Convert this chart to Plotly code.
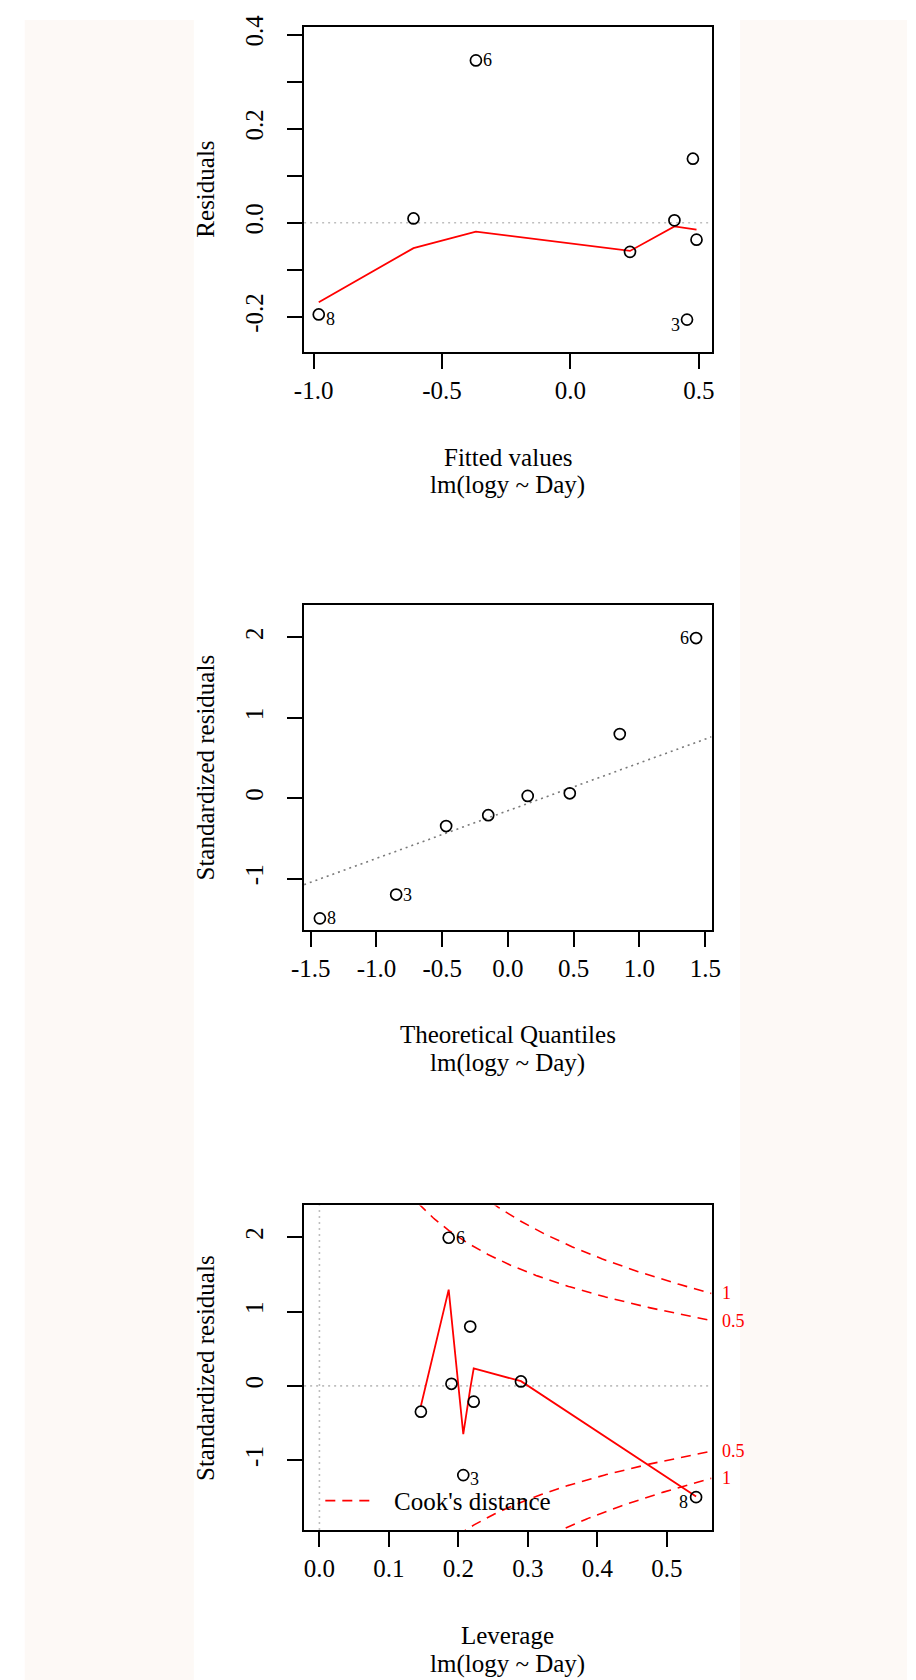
import numpy as np
import plotly.graph_objects as go

# ---------------- data ----------------
obs_id = [1, 2, 3, 4, 5, 6, 7, 8]
fitted = [0.491, 0.477, 0.454, 0.405, 0.232, -0.368, -0.611, -0.980]
residuals = [-0.036, 0.136, -0.206, 0.005, -0.062, 0.345, 0.009, -0.195]
std_resid = [-0.212, 0.798, -1.200, 0.028, -0.347, 1.992, 0.060, -1.496]
leverage = [0.222, 0.217, 0.207, 0.190, 0.146, 0.186, 0.290, 0.542]
theo_quant = [-0.15, 0.85, -0.85, 0.15, -0.47, 1.43, 0.47, -1.43]

# red smoother in Residuals vs Fitted
smooth1_x = [-0.980, -0.611, -0.368, 0.232, 0.405, 0.454, 0.477, 0.491]
smooth1_y = [-0.169, -0.054, -0.019, -0.060, -0.008, -0.012, -0.0137, -0.0148]

# red smoother in Residuals vs Leverage
smooth3_x = [0.146, 0.186, 0.190, 0.207, 0.217, 0.222, 0.290, 0.542]
smooth3_y = [-0.271, 1.295, 0.925, -0.649, -0.038, 0.236, 0.063, -1.486]

# Q-Q reference line
qq_intercept = -0.156
qq_slope = 0.594

# Cook's distance contours
cook_levels = [0.5, 1.0]
n_coef = 2

labelled = [3, 6, 8]

# tick labels
p1_xticks = [-1.0, -0.5, 0.0, 0.5]
p1_xtext = ["-1.0", "-0.5", "0.0", "0.5"]
p1_yticks = [-0.2, -0.1, 0.0, 0.1, 0.2, 0.3, 0.4]
p1_ytext = ["-0.2", "", "0.0", "", "0.2", "", "0.4"]
p2_xticks = [-1.5, -1.0, -0.5, 0.0, 0.5, 1.0, 1.5]
p2_xtext = ["-1.5", "-1.0", "-0.5", "0.0", "0.5", "1.0", "1.5"]
p2_yticks = [-1, 0, 1, 2]
p2_ytext = ["-1", "0", "1", "2"]
p3_xticks = [0.0, 0.1, 0.2, 0.3, 0.4, 0.5]
p3_xtext = ["0.0", "0.1", "0.2", "0.3", "0.4", "0.5"]
p3_yticks = [-1, 0, 1, 2]
p3_ytext = ["-1", "0", "1", "2"]

# ---------------- layout helpers ----------------
W, H = 916, 1680
FONT = "Liberation Serif"
FS = 25
FS_SMALL = 18


def px(x):
    return x / W


def py(y):
    return 1 - y / H


frames = {
    1: dict(x0=298.3, x1=715.7, y0=15.0, y1=342.3, xr=[-1.0369, 0.5494], yr=[-0.2745, 0.4162]),
    2: dict(x0=298.3, x1=715.7, y0=597.0, y1=924.3, xr=[-1.5497, 1.5475], yr=[-1.637, 2.407]),
    3: dict(x0=298.3, x1=715.7, y0=1202.0, y1=1529.0, xr=[-0.0220, 0.5642], yr=[-1.939, 2.427]),
}

fig = go.Figure()

pt_marker = dict(symbol="circle-open", size=11, color="black", line=dict(width=1.7, color="black"))
red_line = dict(color="#FF0000", width=1.8)

# Plot 1: Residuals vs Fitted
fig.add_trace(go.Scatter(x=smooth1_x, y=smooth1_y, mode="lines", line=red_line,
                         xaxis="x", yaxis="y", showlegend=False, hoverinfo="skip"))
fig.add_trace(go.Scatter(x=fitted, y=residuals, mode="markers", marker=pt_marker,
                         xaxis="x", yaxis="y", showlegend=False))

# Plot 2: Normal Q-Q
qx = np.array(frames[2]["xr"])
fig.add_trace(go.Scatter(x=qx, y=qq_intercept + qq_slope * qx, mode="lines",
                         line=dict(color="#7a7a7a", width=1.6, dash="2px,4px"),
                         xaxis="x2", yaxis="y2", showlegend=False, hoverinfo="skip"))
fig.add_trace(go.Scatter(x=theo_quant, y=std_resid, mode="markers", marker=pt_marker,
                         xaxis="x2", yaxis="y2", showlegend=False))

# Plot 3: Residuals vs Leverage
hh = np.linspace(0.005, frames[3]["xr"][1], 300)
for lev in cook_levels:
    yy = np.sqrt(lev * n_coef * (1 - hh) / hh)
    for sgn in (1, -1):
        fig.add_trace(go.Scatter(x=hh, y=sgn * yy, mode="lines",
                                 line=dict(color="#FF0000", width=1.6, dash="10px,7px"),
                                 xaxis="x3", yaxis="y3", showlegend=False, hoverinfo="skip"))
fig.add_trace(go.Scatter(x=smooth3_x, y=smooth3_y, mode="lines", line=red_line,
                         xaxis="x3", yaxis="y3", showlegend=False, hoverinfo="skip"))
fig.add_trace(go.Scatter(x=leverage, y=std_resid, mode="markers", marker=pt_marker,
                         xaxis="x3", yaxis="y3", showlegend=False))


def axis_common(f, ticks, text, is_x):
    ax = dict(
        domain=[px(f["x0"]), px(f["x1"])] if is_x else [py(f["y1"]), py(f["y0"])],
        range=f["xr"] if is_x else f["yr"],
        tickmode="array", tickvals=ticks, ticktext=text,
        ticks="outside", ticklen=15, tickwidth=2, tickcolor="black",
        showline=True, linecolor="black", linewidth=2, mirror=True,
        showgrid=False, zeroline=False,
        tickfont=dict(family=FONT, size=FS, color="black"),
        fixedrange=True,
    )
    if is_x:
        ax["ticklabelstandoff"] = 0
    else:
        ax["tickangle"] = -90
        ax["ticklabelstandoff"] = 14
    return ax


layout_axes = {}
specs = {1: (p1_xticks, p1_xtext, p1_yticks, p1_ytext),
         2: (p2_xticks, p2_xtext, p2_yticks, p2_ytext),
         3: (p3_xticks, p3_xtext, p3_yticks, p3_ytext)}
for i in (1, 2, 3):
    f = frames[i]
    xt, xtt, yt, ytt = specs[i]
    xa = axis_common(f, xt, xtt, True)
    ya = axis_common(f, yt, ytt, False)
    sfx = "" if i == 1 else str(i)
    xa["anchor"] = "y" + sfx
    ya["anchor"] = "x" + sfx
    layout_axes["xaxis" + sfx] = xa
    layout_axes["yaxis" + sfx] = ya

shapes = []
# off-white side strips
for (a, b) in [(12, 185.3), (745, 916)]:
    shapes.append(dict(type="rect", xref="paper", yref="paper", x0=px(a), x1=px(b),
                       y0=py(H), y1=py(8), fillcolor="#FDF9F6", line=dict(width=0), layer="below"))
# dotted reference lines
gray_dot = dict(color="#BEBEBE", width=1.6, dash="2px,4px")
shapes.append(dict(type="line", xref="x domain", yref="y", x0=0, x1=1, y0=0, y1=0, line=gray_dot, layer="below"))
shapes.append(dict(type="line", xref="x3 domain", yref="y3", x0=0, x1=1, y0=0, y1=0, line=gray_dot, layer="below"))
shapes.append(dict(type="line", xref="x3", yref="y3 domain", x0=0, x1=0, y0=0, y1=1, line=gray_dot, layer="below"))
# legend sample
shapes.append(dict(type="line", xref="paper", yref="paper", x0=px(320), x1=px(366), y0=py(1499.3), y1=py(1499.3),
                   line=dict(color="#FF0000", width=1.6, dash="10px,7px")))

ann = []


def text_ann(t, x, y, size=FS, angle=0, xanchor="center", color="black"):
    ann.append(dict(text=t, x=px(x), y=py(y), xref="paper", yref="paper", showarrow=False,
                    xanchor=xanchor, yanchor="middle", textangle=angle,
                    font=dict(family=FONT, size=size, color=color)))


# axis titles
for i, (xl, yl) in {1: ("Fitted values", "Residuals"),
                    2: ("Theoretical Quantiles", "Standardized residuals"),
                    3: ("Leverage", "Standardized residuals")}.items():
    f = frames[i]
    cx = (f["x0"] + f["x1"]) / 2
    text_ann(xl, cx, f["y1"] + 106)
    text_ann("lm(logy ~ Day)", cx, f["y1"] + 134.5)
    text_ann(yl, 197, (f["y0"] + f["y1"]) / 2, angle=-90)

# point id labels
id_offsets = {
    1: {8: (12, -5), 6: (12, 0), 3: (-12, -5)},
    2: {8: (12, 0), 3: (11, 0), 6: (-12, 0)},
    3: {6: (12, 0), 3: (11, -4), 8: (-13, -5)},
}
coords = {1: (fitted, residuals), 2: (theo_quant, std_resid), 3: (leverage, std_resid)}
for i in (1, 2, 3):
    xs, ys = coords[i]
    sfx = "" if i == 1 else str(i)
    for k in labelled:
        j = obs_id.index(k)
        dx, dy = id_offsets[i][k]
        ann.append(dict(text=str(k), x=xs[j], y=ys[j], xref="x" + sfx, yref="y" + sfx,
                        showarrow=False, xshift=dx, yshift=dy, xanchor="center", yanchor="middle",
                        font=dict(family=FONT, size=FS_SMALL, color="black")))

# Cook's contour labels at right edge
xr3 = frames[3]["xr"][1]
for lev in cook_levels:
    yv = float(np.sqrt(lev * n_coef * (1 - xr3) / xr3))
    for sgn in (1, -1):
        ann.append(dict(text=("%g" % lev), x=1, y=sgn * yv, xref="x3 domain", yref="y3",
                        showarrow=False, xanchor="left", yanchor="middle", xshift=8,
                        font=dict(family=FONT, size=FS_SMALL, color="#FF0000")))

# legend text
text_ann("Cook's distance", 388, 1500, xanchor="left")

fig.update_layout(
    width=W, height=H, margin=dict(l=0, r=0, t=0, b=0),
    paper_bgcolor="white", plot_bgcolor="white",
    showlegend=False, shapes=shapes, annotations=ann,
    font=dict(family=FONT, size=FS, color="black"),
    **layout_axes,
)

fig.write_html("out.html")
